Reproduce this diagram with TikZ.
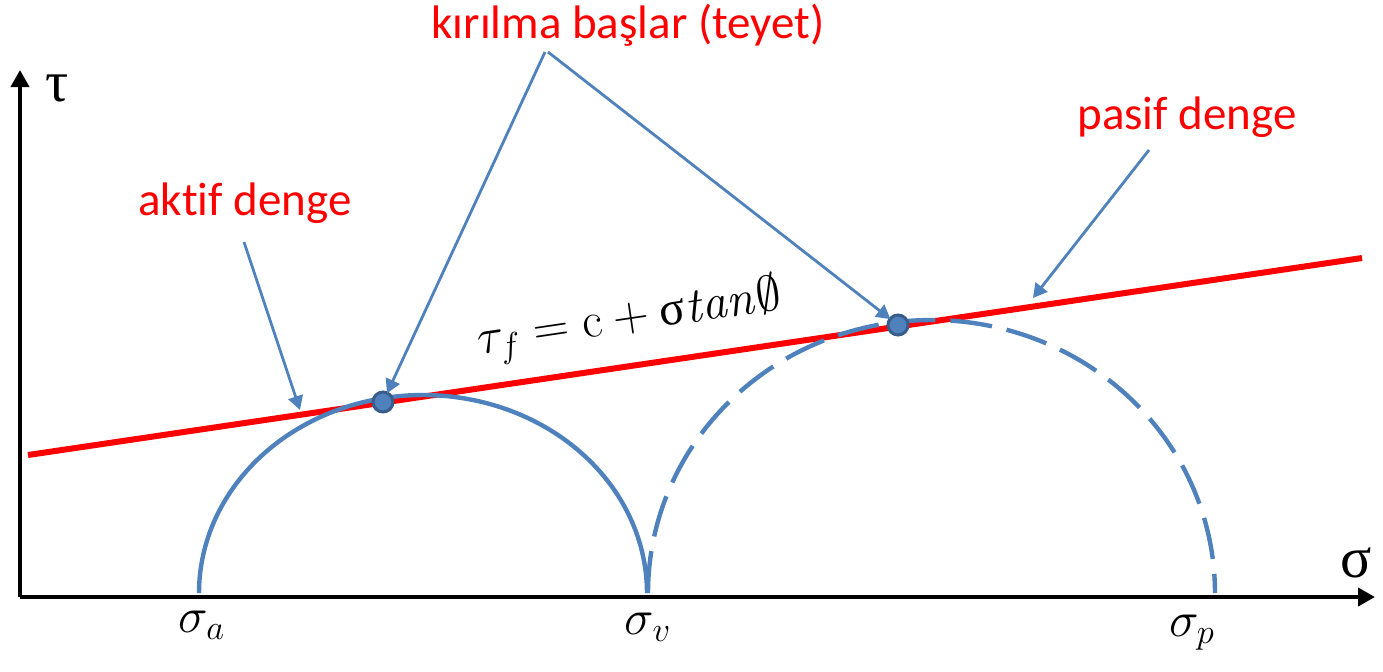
\documentclass[tikz,border=0pt]{standalone}
\usepackage[no-math]{fontspec}
\setmainfont{Carlito}[Ligatures=NoCommon]
\newfontfamily\grk{Liberation Serif}
\usetikzlibrary{arrows.meta}
\definecolor{mblue}{HTML}{4F81BD}
\definecolor{mdark}{HTML}{385D8A}
\definecolor{mred}{HTML}{FF0000}
\tikzset{
  axisline/.style={line width=2pt,-{Triangle[length=8.5pt,width=9pt]}},
  redlabel/.style={text=mred,font=\fontsize{23.5}{28}\selectfont,anchor=base,inner sep=0pt},
  pointer/.style={mblue,line width=1.4pt,-{Triangle[length=7pt,width=7.5pt]}},
  dotnode/.style={circle,fill=mblue,draw=mdark,line width=1.5pt,minimum size=10pt,inner sep=0pt},
  circline/.style={mblue,line width=2.2pt},
  siglabel/.style={anchor=base,inner sep=0pt,font=\fontsize{26}{30}\selectfont}
}
\begin{document}
\begin{tikzpicture}[x=0.5pt,y=-0.5pt]
\useasboundingbox (0,0) rectangle (1383,671);
% axes
\coordinate (origin) at (20,597);
\coordinate (xend) at (1375,597);
\coordinate (yend) at (20,70);
\draw[axisline] (origin) -- (xend);
\draw[axisline] (origin) -- (yend);
\node[font=\grk\fontsize{29}{32}\selectfont,inner sep=0pt] (taulab) at (57,88) {τ};
\node[font=\grk\fontsize{29}{32}\selectfont,inner sep=0pt] (siglab) at (1356,563) {σ};
% failure envelope
\coordinate (ra) at (28,455);
\coordinate (rb) at (1362,258);
\draw[mred,line width=3pt] (ra) -- (rb);
% circles
\draw[circline] plot[domain=0:180,samples=120] ({423+224*cos(\x)},{593-198*sin(\x)});
\draw[circline,dash pattern=on 21pt off 7.5pt] plot[domain=180:0,samples=160] ({931.5+283.5*cos(\x)},{593-273*sin(\x)});
% tangent points
\node[dotnode] (t1) at (383,402) {};
\node[dotnode] (t2) at (898,325) {};
% formula
\node[rotate=8.45,inner sep=0pt,font=\fontsize{24}{28}\selectfont] (formula) at (630,320) {$\tau_f = \mathrm{c} + \mbox{\grk σ}\mathit{tan}\emptyset$};
% labels
\node[redlabel] (kir) at (628,38) {kırılma başlar (teyet)};
\node[redlabel] (akt) at (245,215) {aktif denge};
\node[redlabel] (pas) at (1187,129) {pasif denge};
\coordinate (kst1) at (545,52);
\coordinate (kst2) at (548,52);
\coordinate (ast) at (244,242);
\coordinate (aend) at (300,410);
\coordinate (pst) at (1149,150);
\coordinate (pend) at (1033,298);
\draw[pointer,shorten >=-1pt] (kst1) -- (t1);
\draw[pointer,shorten >=-1pt] (kst2) -- (t2);
\draw[pointer] (ast) -- (aend);
\draw[pointer] (pst) -- (pend);
% sigma labels
\node[siglabel] (sa) at (202,632) {$\sigma_a$};
\node[siglabel] (sv) at (648,634) {$\sigma_v$};
\node[siglabel] (sp) at (1192,636) {$\sigma_p$};
\end{tikzpicture}
\end{document}
